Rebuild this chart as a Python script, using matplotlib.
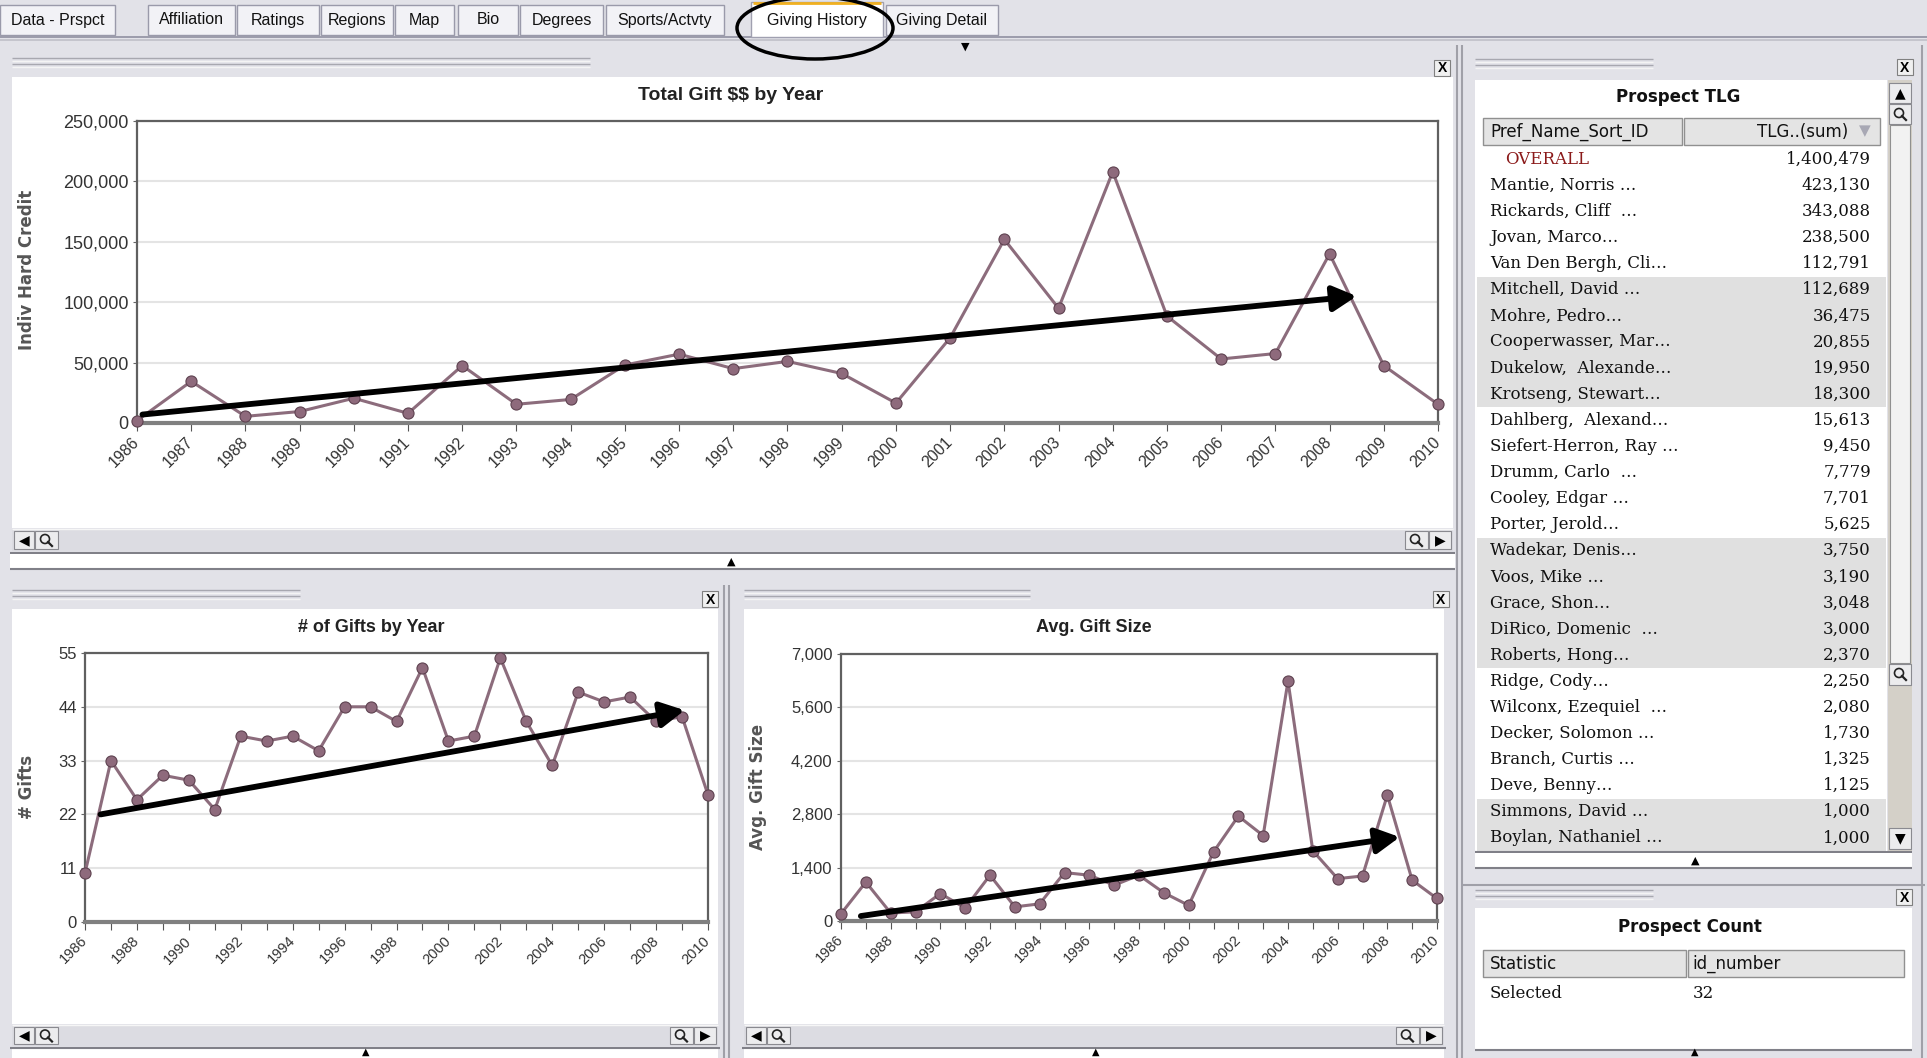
import matplotlib.pyplot as plt
from matplotlib.patches import Rectangle, Ellipse, Circle
from matplotlib.ticker import FuncFormatter

W, H = 1927, 1058

# ---- data ----
years = list(range(1986, 2011))
total_gift = [2000, 34500, 5500, 9500, 20500, 8000, 47500, 15500, 19500, 48000,
              57000, 45000, 51000, 41000, 16500, 70500, 152000, 95000, 208000, 88500,
              53000, 57500, 140000, 47500, 15500]
gift_count = [10, 33, 25, 30, 29, 23, 38, 37, 38, 35, 44, 44, 41, 52, 37, 38,
              54, 41, 32, 47, 45, 46, 41, 42, 26]
avg_gift = [190, 1020, 210, 240, 720, 340, 1200, 370, 450, 1270, 1200, 940, 1200,
            740, 410, 1810, 2750, 2240, 6290, 1840, 1110, 1180, 3300, 1070, 590]

# hand drawn trend arrows (start, end) in data units
trend_total = [(1986.1, 7000), (2008.5, 105000)]
trend_count = [(1986.6, 22), (2009.1, 43.3)]
trend_avg = [(1986.8, 130), (2008.5, 2200)]

yticks_total = [0, 50000, 100000, 150000, 200000, 250000]
yticks_count = [0, 11, 22, 33, 44, 55]
yticks_avg = [0, 1400, 2800, 4200, 5600, 7000]

tab_names = ['Data - Prspct', 'Affiliation', 'Ratings', 'Regions', 'Map', 'Bio',
             'Degrees', 'Sports/Actvty', 'Giving History', 'Giving Detail']
tlg_names = ['OVERALL', 'Mantie, Norris …', 'Rickards, Cliff  …', 'Jovan, Marco…',
             'Van Den Bergh, Cli…', 'Mitchell, David …', 'Mohre, Pedro…',
             'Cooperwasser, Mar…', 'Dukelow,  Alexande…', 'Krotseng, Stewart…',
             'Dahlberg,  Alexand…', 'Siefert-Herron, Ray …', 'Drumm, Carlo  …',
             'Cooley, Edgar …', 'Porter, Jerold…', 'Wadekar, Denis…', 'Voos, Mike …',
             'Grace, Shon…', 'DiRico, Domenic  …', 'Roberts, Hong…', 'Ridge, Cody…',
             'Wilconx, Ezequiel  …', 'Decker, Solomon …', 'Branch, Curtis …',
             'Deve, Benny…', 'Simmons, David …', 'Boylan, Nathaniel …']
tlg_values = [1400479, 423130, 343088, 238500, 112791, 112689, 36475, 20855, 19950,
              18300, 15613, 9450, 7779, 7701, 5625, 3750, 3190, 3048, 3000, 2370,
              2250, 2080, 1730, 1325, 1125, 1000, 1000]

# ---- layout (pixels from top-left) ----
tab_edges = [(0, 115), (148, 235), (237, 319), (321, 393), (395, 454), (458, 518),
             (520, 603), (606, 724), (751, 883), (886, 998)]
SANS = ['Liberation Sans', 'DejaVu Sans']
BG = '#e2e2e8'
LINE_C = '#8c6c7c'

fig = plt.figure(figsize=(W / 100, H / 100), dpi=100)
fig.patch.set_facecolor(BG)
bg = fig.add_axes([0, 0, 1, 1])
bg.set_xlim(0, W)
bg.set_ylim(H, 0)
bg.axis('off')


def rect(x0, y0, x1, y1, fc, ec='none', lw=0, z=1):
    bg.add_patch(Rectangle((x0, y0), x1 - x0, y1 - y0, facecolor=fc,
                           edgecolor=ec, lw=lw, zorder=z))


def hline(x0, x1, y, c='#a0a0a8', lw=1, z=2):
    bg.plot([x0, x1], [y, y], color=c, lw=lw, zorder=z, solid_capstyle='butt')


def vline(x, y0, y1, c='#a0a0a8', lw=1, z=2):
    bg.plot([x, x], [y0, y1], color=c, lw=lw, zorder=z, solid_capstyle='butt')


def grip(x0, x1, y):
    for k in range(4):
        hline(x0, x1, y + k * 3, c='#a8a8b0' if k % 2 == 0 else '#f4f4f4', lw=1)


def close_btn(x, y):
    rect(x - 8, y - 8, x + 8, y + 8, '#f0f0f0', ec='#808080', lw=0.8, z=3)
    bg.text(x, y + 0.5, 'X', ha='center', va='center', fontsize=10, fontweight='bold',
            family=SANS, zorder=4)


def magnifier(x, y):
    bg.add_patch(Circle((x - 1, y - 1), 4.5, fill=False, ec='#222', lw=1.2, zorder=4))
    bg.plot([x + 2, x + 6], [y + 2, y + 6], color='#222', lw=1.6, zorder=4)


def button(x0, y0, x1, y1):
    rect(x0, y0, x1, y1, '#ececee', ec='#8a8a90', lw=0.8, z=3)


def scrollbar(x0, x1, y0, y1):
    rect(x0, y0, x1, y1, '#dcdce2', z=2)
    hline(x0, x1, y0, c='#f6f6f6')
    button(x0 + 2, y0 + 2, x0 + 22, y1 - 2)
    bg.text(x0 + 12, (y0 + y1) / 2, '◀', ha='center', va='center', fontsize=10,
            family='DejaVu Sans', zorder=4)
    button(x0 + 23, y0 + 2, x0 + 46, y1 - 2)
    magnifier(x0 + 34, (y0 + y1) / 2)
    button(x1 - 48, y0 + 2, x1 - 25, y1 - 2)
    magnifier(x1 - 37, (y0 + y1) / 2)
    button(x1 - 24, y0 + 2, x1 - 2, y1 - 2)
    bg.text(x1 - 13, (y0 + y1) / 2, '▶', ha='center', va='center', fontsize=10,
            family='DejaVu Sans', zorder=4)


def splitter(x0, x1, y, xm):
    hline(x0, x1, y, c='#808088', lw=1.5)
    rect(x0, y + 1, x1, y + 15, 'white', z=2)
    hline(x0, x1, y + 16, c='#808088', lw=1.5)
    bg.text(xm, y + 9, '▲', ha='center', va='center', fontsize=8,
            family='DejaVu Sans', zorder=4)


# ---- tab bar ----
hline(0, W, 37, c='#9090a0', lw=1.2)
hline(0, W, 40, c='#c0c0c8', lw=1.2)
for name, (x0, x1) in zip(tab_names, tab_edges):
    if name == 'Giving History':
        rect(x0, 2, x1, 37, 'white', ec='#a0a0b0', lw=1, z=2)
        hline(x0 + 2, x1 - 2, 3, c='#f0b020', lw=2, z=3)
    else:
        rect(x0, 5, x1, 35, '#f2f2f6', ec='#9a9aaa', lw=1, z=2)
    bg.text((x0 + x1) / 2, 20, name, ha='center', va='center', fontsize=11.5,
            family=SANS, color='#111', zorder=4)
bg.add_patch(Ellipse((815, 28), 156, 62, fill=False, ec='black', lw=2.5, zorder=5))
bg.text(965, 47, '▼', ha='center', va='center', fontsize=8, family='DejaVu Sans')

# ---- panels ----
# top chart panel
grip(12, 590, 58)
close_btn(1442, 68)
rect(12, 77, 1453, 528, 'white')
scrollbar(12, 1453, 529, 551)
splitter(10, 1455, 553, 731)
vline(1457, 45, 1058, c='#a0a0a8', lw=1.5)
vline(1462, 45, 1058, c='#a0a0a8', lw=1.5)

# bottom-left panel
grip(12, 300, 590)
close_btn(710, 599)
rect(12, 609, 718, 1024, 'white')
scrollbar(12, 718, 1025, 1046)
hline(10, 720, 1048, c='#808088', lw=1.5)
rect(12, 1049, 718, 1058, 'white')
bg.text(366, 1052, '▲', ha='center', va='center', fontsize=7, family='DejaVu Sans')
vline(724, 585, 1058, c='#a0a0a8', lw=1.5)
vline(729, 585, 1058, c='#a0a0a8', lw=1.5)

# bottom-middle panel
grip(744, 1030, 590)
close_btn(1441, 599)
rect(744, 609, 1444, 1024, 'white')
scrollbar(744, 1444, 1025, 1046)
hline(742, 1446, 1048, c='#808088', lw=1.5)
rect(744, 1049, 1444, 1058, 'white')
bg.text(1096, 1052, '▲', ha='center', va='center', fontsize=7, family='DejaVu Sans')

# right panel: Prospect TLG
grip(1475, 1653, 59)
close_btn(1905, 67)
rect(1475, 80, 1887, 851, 'white')
bg.text(1678, 97, 'Prospect TLG', ha='center', va='center', fontsize=12,
        fontweight='bold', family='DejaVu Sans', color='#111')
rect(1483, 118, 1682, 145, '#e4e4e4', ec='#909090', lw=1, z=2)
rect(1684, 118, 1880, 145, '#e4e4e4', ec='#909090', lw=1, z=2)
bg.text(1490, 132, 'Pref_Name_Sort_ID', ha='left', va='center', fontsize=12,
        family='DejaVu Sans', color='#111', zorder=3)
bg.text(1848, 132, 'TLG..(sum)', ha='right', va='center', fontsize=12,
        family='DejaVu Sans', color='#111', zorder=3)
bg.text(1865, 131, '▼', ha='center', va='center', fontsize=11, family='DejaVu Sans',
        color='#a8a8b4', zorder=3)
row_h = 26.1
for i, (name, val) in enumerate(zip(tlg_names, tlg_values)):
    yc = 159.3 + row_h * i
    if (i // 5) % 2 == 1:
        rect(1477, yc - row_h / 2, 1886, yc + row_h / 2, '#e0e0e0', z=1.5)
    if i == 0:
        bg.text(1505, yc, name, ha='left', va='center', fontsize=12,
                family='DejaVu Serif', color='#8b1a1a', zorder=3)
    else:
        bg.text(1490, yc, name, ha='left', va='center', fontsize=12,
                family='DejaVu Serif', color='#111', zorder=3)
    bg.text(1871, yc, f'{val:,}', ha='right', va='center', fontsize=12,
            family='DejaVu Serif', color='#111', zorder=3)
# vertical scrollbar of the table
rect(1888, 80, 1912, 851, '#d4d0c8', z=2)
rect(1890, 125, 1910, 663, '#f2f2f2', ec='#909090', lw=0.8, z=2.5)
button(1889, 83, 1911, 103)
bg.text(1900, 93, '▲', ha='center', va='center', fontsize=10, family='DejaVu Sans', zorder=4)
button(1889, 104, 1911, 124)
magnifier(1900, 114)
button(1889, 664, 1911, 685)
magnifier(1900, 674)
button(1889, 828, 1911, 849)
bg.text(1900, 838, '▼', ha='center', va='center', fontsize=10, family='DejaVu Sans', zorder=4)
splitter(1475, 1912, 852, 1695)
hline(1462, 1925, 885, c='#a0a0a8', lw=1.5)
vline(1922, 45, 1058, c='#a0a0a8', lw=1.5)

# right bottom panel: Prospect Count
grip(1475, 1653, 890)
close_btn(1904, 897)
rect(1475, 908, 1912, 1049, 'white')
bg.text(1690, 927, 'Prospect Count', ha='center', va='center', fontsize=12,
        fontweight='bold', family='DejaVu Sans', color='#111')
rect(1483, 950, 1686, 977, '#e4e4e4', ec='#909090', lw=1, z=2)
rect(1688, 950, 1904, 977, '#e4e4e4', ec='#909090', lw=1, z=2)
bg.text(1490, 964, 'Statistic', ha='left', va='center', fontsize=12,
        family='DejaVu Sans', color='#111', zorder=3)
bg.text(1692, 964, 'id_number', ha='left', va='center', fontsize=12,
        family='DejaVu Sans', color='#111', zorder=3)
bg.text(1490, 993, 'Selected', ha='left', va='center', fontsize=12,
        family='DejaVu Serif', color='#111', zorder=3)
bg.text(1693, 993, '32', ha='left', va='center', fontsize=12,
        family='DejaVu Serif', color='#111', zorder=3)
hline(1475, 1912, 1050, c='#808088', lw=1.5)
bg.text(1695, 1052, '▲', ha='center', va='center', fontsize=7, family='DejaVu Sans')

# ---- the three line charts ----
def line_chart(box, values, yticks, trend, label_step, tick_fs, xlab_fs):
    l, t, w, h = box
    ax = fig.add_axes([l / W, 1 - (t + h) / H, w / W, h / H])
    ax.set_facecolor('white')
    ax.plot(years, values, color=LINE_C, lw=2.2, marker='o', ms=8,
            mfc='#8e6a7c', mec='#5e4250', mew=0.8, clip_on=False, zorder=3)
    ax.set_xlim(years[0], years[-1])
    ax.set_ylim(yticks[0], yticks[-1])
    ax.set_yticks(yticks)
    ax.yaxis.set_major_formatter(FuncFormatter(lambda v, p: f'{v:,.0f}'))
    ax.set_xticks(years)
    ax.set_xticklabels([str(y) if (y - years[0]) % label_step == 0 else '' for y in years],
                       rotation=45, ha='right', va='center', rotation_mode='anchor')
    ax.tick_params(axis='y', length=3, color='#666', labelsize=tick_fs,
                   labelcolor='#333', pad=3)
    ax.tick_params(axis='x', length=6, color='#555', labelsize=xlab_fs,
                   labelcolor='#333', pad=6)
    for lab in ax.get_xticklabels() + ax.get_yticklabels():
        lab.set_family(SANS)
    ax.grid(axis='y', color='#e4e4e4', lw=1.5)
    ax.set_axisbelow(True)
    for side in ['top', 'right', 'left']:
        ax.spines[side].set_color('#606060')
        ax.spines[side].set_linewidth(1.6)
    ax.spines['bottom'].set_color('#808080')
    ax.spines['bottom'].set_linewidth(3)
    (x0, y0), (x1, y1) = trend
    ax.annotate('', xy=(x1, y1), xytext=(x0, y0),
                arrowprops=dict(arrowstyle='-|>,head_length=0.75,head_width=0.4',
                                lw=4.2, color='black', mutation_scale=19,
                                shrinkA=0, shrinkB=0), zorder=5)
    return ax


line_chart((137, 121, 1301, 302), total_gift, yticks_total, trend_total, 1, 13, 11.5)
line_chart((85, 653, 623, 269), gift_count, yticks_count, trend_count, 2, 12, 10.5)
line_chart((841, 654, 596, 267), avg_gift, yticks_avg, trend_avg, 2, 12, 10.5)

bg.text(731, 96, r'Total Gift \$\$ by Year', ha='center', va='center', fontsize=14,
        fontweight='bold', family=SANS, color='#222')
bg.text(371, 628, '# of Gifts by Year', ha='center', va='center', fontsize=13,
        fontweight='bold', family=SANS, color='#222')
bg.text(1094, 628, 'Avg. Gift Size', ha='center', va='center', fontsize=13,
        fontweight='bold', family=SANS, color='#222')
bg.text(27, 270, 'Indiv Hard Credit', rotation=90, ha='center', va='center',
        fontsize=12, fontweight='bold', family='DejaVu Sans', color='#555')
bg.text(27, 787, '# Gifts', rotation=90, ha='center', va='center',
        fontsize=12, fontweight='bold', family='DejaVu Sans', color='#555')
bg.text(758, 787, 'Avg. Gift Size', rotation=90, ha='center', va='center',
        fontsize=12, fontweight='bold', family='DejaVu Sans', color='#555')

fig.savefig('out.png', dpi=100, facecolor=fig.get_facecolor())
